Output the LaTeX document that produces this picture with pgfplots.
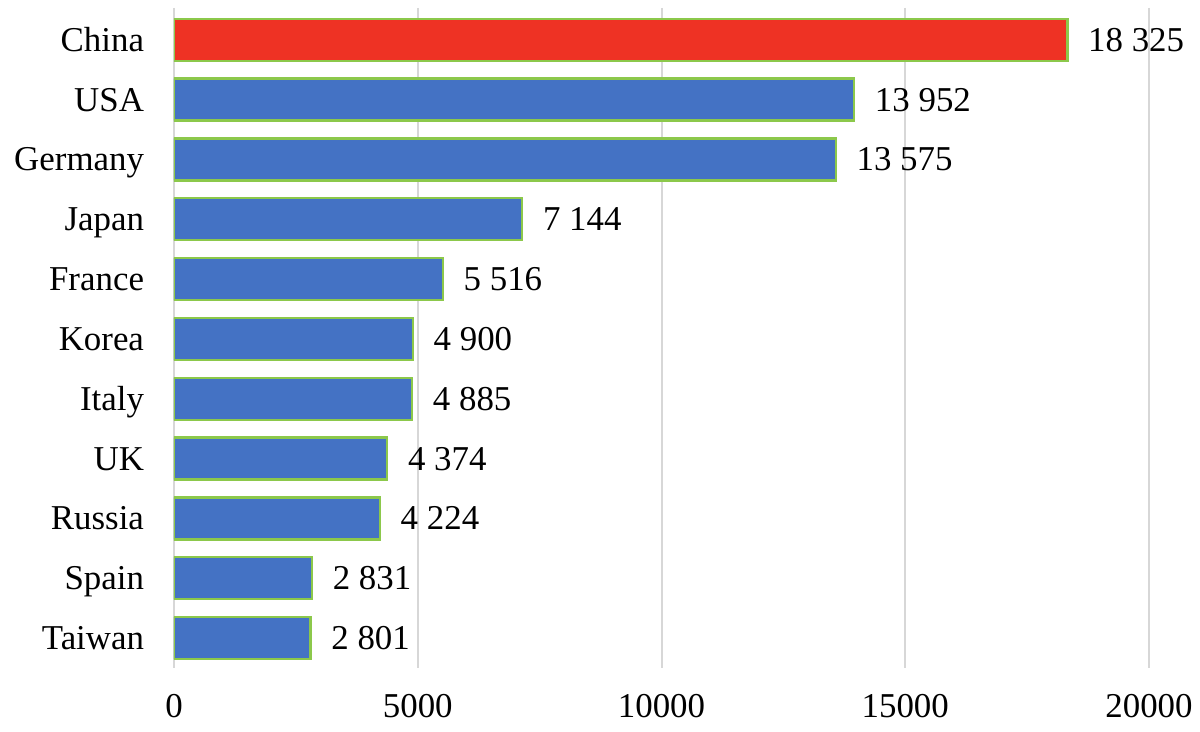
\documentclass[border=0pt]{standalone}
\usepackage{pgfplots}
\pgfplotsset{compat=1.18}
\usepackage{fontspec}
\setmainfont{Liberation Serif}
\definecolor{barblue}{RGB}{68,114,196}
\definecolor{barred}{RGB}{238,50,36}
\definecolor{edgegreen}{RGB}{140,200,75}
\definecolor{gridgray}{RGB}{215,215,215}
\begin{document}
\fontsize{17.5}{21}\selectfont
\begin{tikzpicture}
\begin{axis}[
    xbar,
    scale only axis,
    width=487.5bp, height=330bp,
    xmin=0, xmax=20000,
    ymin=-0.53, ymax=10.5,
    y dir=reverse,
    bar width=21bp,
    bar shift=0pt,
    axis line style={draw=none},
    xmajorgrids,
    grid style={gridgray, line width=1bp},
    major tick length=0pt,
    scaled x ticks=false,
    xtick={0,5000,10000,15000,20000},
    ytick={0,...,10},
    yticklabels={China,USA,Germany,Japan,France,Korea,Italy,UK,Russia,Spain,Taiwan},
    /pgf/number format/assume math mode=true,
    xticklabel style={/pgf/number format/1000 sep={}, yshift=-7bp},
    yticklabel style={xshift=-9bp, text height=12bp, text depth=0.5bp},
    tick label style={font=\fontsize{17.5}{21}\selectfont},
    nodes near coords,
    nodes near coords style={anchor=west, xshift=4bp, text height=12bp, text depth=0.5bp,
        font=\fontsize{17.5}{21}\selectfont,
        /pgf/number format/1000 sep={\ }},
    every axis plot/.append style={draw=edgegreen, line width=1.2bp},
]
\addplot[fill=barblue] coordinates {
    (13952,1) (13575,2) (7144,3) (5516,4) (4900,5)
    (4885,6) (4374,7) (4224,8) (2831,9) (2801,10)
};
\addplot[fill=barred] coordinates {(18325,0)};
\coordinate (bl) at (rel axis cs:0,0);
\coordinate (tr) at (rel axis cs:1,1);
\end{axis}
\pgfresetboundingbox
\path ([shift={(-87bp,-32bp)}]bl) rectangle ([shift={(25.5bp,4bp)}]tr);
\end{tikzpicture}
\end{document}
